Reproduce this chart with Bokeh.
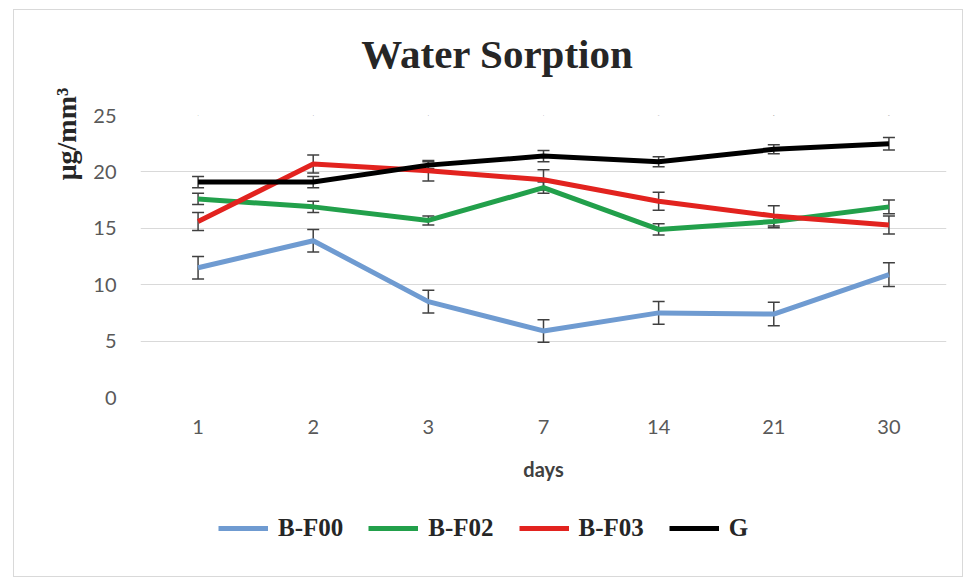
from bokeh.plotting import figure
from bokeh.layouts import column
from bokeh.models import (ColumnDataSource, Whisker, TeeHead, Legend, LegendItem,
                          Range1d, FixedTicker, CategoricalAxis)
from bokeh.embed import file_html
from bokeh.resources import INLINE

days = ["1", "2", "3", "7", "14", "21", "30"]
series_names = ["B-F00", "B-F02", "B-F03", "G"]
bf00 = [11.5, 13.9, 8.5, 5.9, 7.5, 7.4, 10.9]
bf00_err = [1.0, 1.0, 1.0, 1.0, 1.0, 1.05, 1.05]
bf02 = [17.6, 16.9, 15.7, 18.6, 14.9, 15.6, 16.9]
bf02_err = [0.5, 0.5, 0.4, 0.5, 0.5, 0.55, 0.6]
bf03 = [15.6, 20.7, 20.1, 19.3, 17.4, 16.1, 15.3]
bf03_err = [0.8, 0.8, 0.9, 0.9, 0.8, 0.9, 0.8]
g = [19.1, 19.1, 20.6, 21.4, 20.9, 22.0, 22.5]
g_err = [0.5, 0.5, 0.3, 0.5, 0.45, 0.4, 0.55]
y_ticks = [0, 5, 10, 15, 20, 25]

colors = ["#6f9bd1", "#22a04b", "#e2231f", "#000000"]
values = [bf00, bf02, bf03, g]
errors = [bf00_err, bf02_err, bf03_err, g_err]

p = figure(width=948, height=480, x_range=days, y_range=Range1d(0, 25),
           output_backend="svg", toolbar_location=None,
           min_border_left=126, min_border_right=16, min_border_top=105,
           min_border_bottom=93)
p.outline_line_color = None
p.background_fill_color = "white"
p.border_fill_color = "white"

# chart title carried by a label-less axis above the plot
title_axis = CategoricalAxis(axis_line_color=None, major_tick_line_color=None,
                             minor_tick_line_color=None, major_tick_out=0,
                             major_tick_in=0, major_label_standoff=0,
                             major_label_text_font_size="1px",
                             major_label_overrides={d: "" for d in days},
                             axis_label="Water Sorption" + "\u00a0" * 9,
                             axis_label_text_font="Liberation Serif",
                             axis_label_text_font_style="bold",
                             axis_label_text_font_size="41px",
                             axis_label_text_color="#262626",
                             axis_label_standoff=35)
p.add_layout(title_axis, "above")

p.xgrid.grid_line_color = None
p.ygrid.grid_line_color = "#d9d9d9"
p.ygrid.grid_line_width = 1
p.yaxis.ticker = FixedTicker(ticks=y_ticks)

xax = p.below[0]
yax = p.left[0]
for ax in (xax, yax):
    ax.axis_line_color = None
    ax.major_tick_line_color = None
    ax.minor_tick_line_color = None
    ax.major_label_text_font = "Lato"
    ax.major_label_text_font_size = "20px"
    ax.major_label_text_color = "#595959"
yax.major_label_standoff = 18
xax.major_label_standoff = 16
xax.axis_label = "days"
xax.axis_label_text_font = "Lato"
xax.axis_label_text_font_style = "bold"
xax.axis_label_text_font_size = "20px"
xax.axis_label_text_color = "#404040"
xax.axis_label_standoff = 20

# y-axis title sits high on the axis in the reference: pad its start
yax.axis_label = "\u00a0" * 35 + "μg/mm³"
yax.axis_label_text_font = "Liberation Serif"
yax.axis_label_text_font_style = "bold"
yax.axis_label_text_font_size = "28px"
yax.axis_label_text_color = "#262626"
yax.axis_label_standoff = 8

sources = []
for name, vals, errs, col in zip(series_names, values, errors, colors):
    src = ColumnDataSource(dict(x=days, y=vals,
                                upper=[v + e for v, e in zip(vals, errs)],
                                lower=[v - e for v, e in zip(vals, errs)]))
    sources.append(src)
    p.line("x", "y", source=src, line_color=col, line_width=5)
    w = Whisker(source=src, base="x", upper="upper", lower="lower",
                line_color="#404040", line_width=1.5,
                upper_head=TeeHead(size=12, line_color="#404040", line_width=1.5),
                lower_head=TeeHead(size=12, line_color="#404040", line_width=1.5))
    p.add_layout(w)

# legend strip below the chart (same series, drawn out of view)
p2 = figure(width=948, height=86, x_range=days, y_range=Range1d(100, 101),
            output_backend="svg", toolbar_location=None,
            x_axis_type=None, y_axis_type=None,
            min_border_left=0, min_border_right=0, min_border_top=0,
            min_border_bottom=0)
p2.outline_line_color = None
p2.grid.visible = False
items = []
for name, src, col in zip(series_names, sources, colors):
    r = p2.line("x", "y", source=src, line_color=col, line_width=5)
    items.append(LegendItem(label=name, renderers=[r]))

legend = Legend(items=items, orientation="horizontal", location=(78, 34),
                label_text_font="Liberation Serif", label_text_font_style="bold",
                label_text_font_size="25px", label_text_color="#262626",
                glyph_width=50, glyph_height=22, label_height=22,
                spacing=25, label_standoff=10, padding=0, margin=0,
                border_line_color=None, background_fill_alpha=0)
p2.add_layout(legend, "center")

layout = column(p, p2, spacing=0, margin=(9, 0, 0, 13),
                styles={"border": "1px solid #d9d9d9"})
open("out.html", "w").write(file_html(layout, INLINE))
